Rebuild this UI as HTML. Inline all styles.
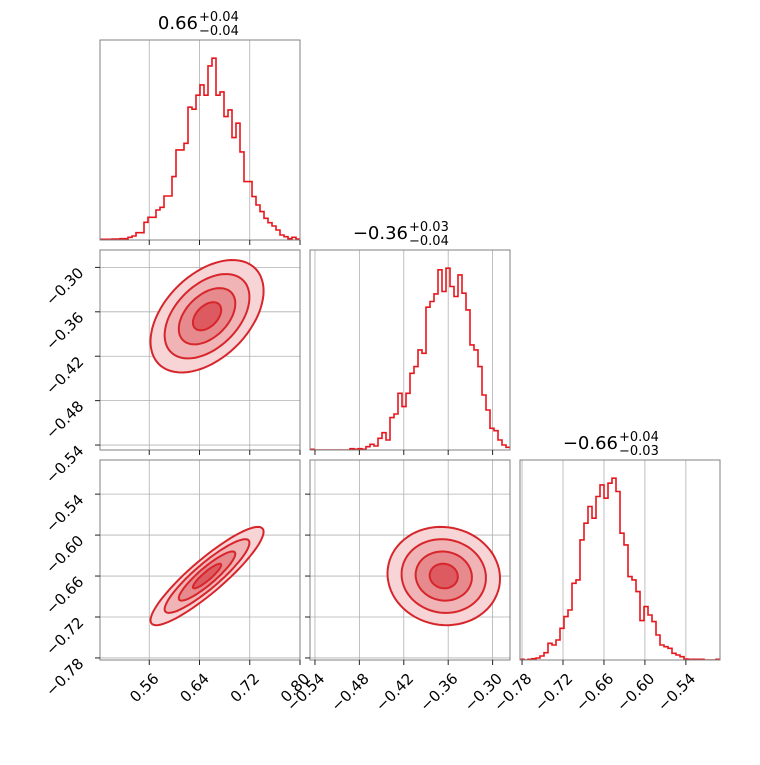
<!DOCTYPE html>
<html><head><meta charset="utf-8"><style>
html,body{margin:0;padding:0;background:#fff;}
svg text{font-family:"DejaVu Sans","Liberation Sans",sans-serif;fill:#000;}
</style></head><body>
<svg id="fig" width="760" height="760" xmlns="http://www.w3.org/2000/svg"></svg>
<script>
// ---- data ----
const paramRanges = [[0.4816, 0.80], [-0.5467, -0.2765], [-0.783, -0.490]];
const paramTicks = [[0.56, 0.64, 0.72, 0.80], [-0.54, -0.48, -0.42, -0.36, -0.30], [-0.78, -0.72, -0.66, -0.60, -0.54]];
const paramTickLabels = [["0.56","0.64","0.72","0.80"],["−0.54","−0.48","−0.42","−0.36","−0.30"],["−0.78","−0.72","−0.66","−0.60","−0.54"]];
const hist1 = [2,2,2,3,3,4,4,8,12,22,22,53,68,68,90,98,132,132,190,270,270,290,398,392,434,465,434,522,545,434,444,370,390,307,350,264,175,175,130,105,85,65,52,42,30,15,10,4,8,3];
const hist2 = [2,0,0,0,0,0,0,0,0,0,4,2,4,2,10,17,12,35,52,30,97,108,170,130,170,230,250,300,290,428,445,468,540,475,545,490,460,525,470,420,315,300,250,165,120,65,58,30,15,8];
const hist3 = [2,0,2,4,6,12,22,50,45,60,95,130,150,230,240,360,410,460,425,490,525,485,530,545,505,380,345,250,240,205,118,160,135,115,75,45,40,35,20,15,10,3,2,2,2,2,0,0,0,2];
const means = [0.652, -0.366, -0.66];
const sigmas = [0.045, 0.038, 0.036];
const correlations = [[1, 0.45, 0.9],[0.45, 1, -0.05],[0.9, -0.05, 1]];
const contourLevels = [2, 1.5, 1, 0.5];
const titleMain = ["0.66", "−0.36", "−0.66"];
const titleUp = ["+0.04", "+0.03", "+0.04"];
const titleDown = ["−0.04", "−0.04", "−0.03"];
// ---- drawing ----
const NS = "http://www.w3.org/2000/svg";
const svg = document.getElementById("fig");
const fills = ["#f7d5d7", "#f0b3b6", "#e68a8e", "#dc5a60"];
const LINE = "#d7262b", HIST = "#e8161c";
function mk(tag, attrs, parent) {
  const e = document.createElementNS(NS, tag);
  for (const k in attrs) e.setAttribute(k, attrs[k]);
  (parent || svg).appendChild(e);
  return e;
}
function px(i, c, v) { const r = paramRanges[i]; return 100 + 210 * c + (v - r[0]) / (r[1] - r[0]) * 200; }
function py(j, r, v) { const rg = paramRanges[j]; return 40 + 210 * r + 200 - (v - rg[0]) / (rg[1] - rg[0]) * 200; }
const hists = [hist1, hist2, hist3];
for (let r = 0; r < 3; r++) {
  for (let c = 0; c <= r; c++) {
    const L = 100 + 210 * c, T = 40 + 210 * r;
    const g = mk("g", {});
    
    
    const cp = mk("clipPath", {id: "cp" + r + c}, g);
    mk("rect", {x: L, y: T, width: 200, height: 200}, cp);
    paramTicks[c].forEach(t => {
      const x = px(c, c, t);
      if (x >= L - 0.5 && x <= L + 200.5) mk("line", {x1: x, x2: x, y1: T, y2: T + 200, stroke: "#b0b0b0", "stroke-width": 0.8}, g);
    });
    if (r !== c) paramTicks[r].forEach(t => {
      const y = py(r, r, t);
      if (y >= T - 0.5 && y <= T + 200.5) mk("line", {x1: L, x2: L + 200, y1: y, y2: y, stroke: "#b0b0b0", "stroke-width": 0.8}, g);
    });
    const inner = mk("g", {"clip-path": "url(#cp" + r + c + ")"}, g);
    if (r === c) {
      const h = hists[c], mx = Math.max(...h), n = h.length, rg = paramRanges[c];
      let d = "";
      h.forEach((v, k) => {
        const x0 = px(c, c, rg[0] + (rg[1] - rg[0]) * k / n), x1 = px(c, c, rg[0] + (rg[1] - rg[0]) * (k + 1) / n);
        const y = T + 200 - v / (1.1 * mx) * 200;
        d += (k === 0 ? "M" : "L") + x0.toFixed(1) + "," + y.toFixed(1) + "L" + x1.toFixed(1) + "," + y.toFixed(1);
      });
      const p = mk("path", {d: d, fill: "none", stroke: HIST, "stroke-width": 1.6}, inner);
      
      
      const tx = L + 100;
      const tt = mk("text", {x: tx - 2, y: T - 11, "font-size": 18, "text-anchor": "end"}, g);
      tt.textContent = titleMain[c];
      
      
      const tu = mk("text", {x: tx - 1, y: T - 19, "font-size": 13}, g);
      tu.textContent = titleUp[c];
      
      
      const td = mk("text", {x: tx - 1, y: T - 5, "font-size": 13}, g);
      td.textContent = titleDown[c];
      
      
    } else {
      const i = c, j = r, rho = correlations[i][j];
      contourLevels.forEach((k, li) => {
        let d = "";
        for (let s = 0; s <= 72; s++) {
          const t = s / 72 * 2 * Math.PI;
          const vx = means[i] + k * sigmas[i] * Math.cos(t);
          const vy = means[j] + k * sigmas[j] * (rho * Math.cos(t) + Math.sqrt(1 - rho * rho) * Math.sin(t));
          d += (s === 0 ? "M" : "L") + px(i, c, vx).toFixed(1) + "," + py(j, r, vy).toFixed(1);
        }
        const p = mk("path", {d: d + "Z", fill: fills[li], stroke: LINE, "stroke-width": 2}, inner);
        
        
      });
    }
    mk("rect", {x: L, y: T, width: 200, height: 200, fill: "none", stroke: "#808080", "stroke-width": 1}, g);
    paramTicks[c].forEach((t, ti) => {
      const x = px(c, c, t);
      mk("line", {x1: x, x2: x, y1: T + 200, y2: T + 205, stroke: "#222", "stroke-width": 1}, g);
      if (r === 2) {
        const lb = mk("text", {x: 0, y: 0, "font-size": 15, "text-anchor": "end", "dominant-baseline": "central", transform: "translate(" + (x + 7) + "," + (T + 216) + ") rotate(-45)"}, g);
        lb.textContent = paramTickLabels[c][ti];
        
        
      }
    });
    if (r !== c) paramTicks[r].forEach((t, ti) => {
      const y = py(r, r, t);
      mk("line", {x1: L - 5, x2: L, y1: y, y2: y, stroke: "#222", "stroke-width": 1}, g);
      if (c === 0) {
        const lb = mk("text", {x: 0, y: 0, "font-size": 15, "text-anchor": "end", "dominant-baseline": "central", transform: "translate(" + (L - 19) + "," + (y + 3) + ") rotate(-45)"}, g);
        lb.textContent = paramTickLabels[r][ti];
        
        
      }
    });
  }
}
</script>
</body></html>
